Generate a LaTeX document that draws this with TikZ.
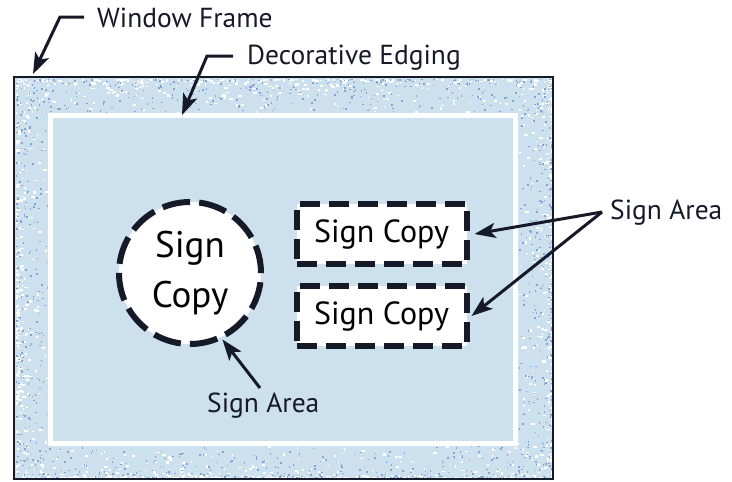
\documentclass[tikz,border=0pt]{standalone}
\usepackage{fontspec}
\setmainfont{PT Sans}
\usetikzlibrary{arrows.meta}
\definecolor{glass}{RGB}{204,224,238}
\definecolor{ink}{RGB}{22,25,40}
\definecolor{speckblue}{RGB}{118,146,204}
\begin{document}
\begin{tikzpicture}[x=1pt,y=-1pt,
		lbl/.style={anchor=base west,inner sep=0pt,text=ink,font=\fontsize{27.5}{32}\selectfont},
		pointer/.style={draw=ink,line width=3pt,-{Stealth[length=21pt,width=15pt,inset=5pt]}},
		copybox/.style={draw=ink,fill=white,line width=6pt,dash pattern=on 20pt off 9pt,
			minimum width=170pt,minimum height=60pt,inner sep=0pt,font=\fontsize{32}{36}\selectfont},
		copyround/.style={circle,draw=ink,fill=white,line width=6pt,dash pattern=on 28pt off 9.17pt,
			minimum size=142pt,inner sep=0pt,align=center,font=\fontsize{37}{50}\selectfont}]
	\useasboundingbox (0,0) rectangle (732,482);
	% window with its edging
	\fill[glass] (14,77) rectangle (553,479);
	\pgfmathsetseed{11}
	\foreach \ox/\oy/\dx/\dy/\lx/\ly/\n in {16/79/0/33/535/0/300, 16/477/0/-31/535/0/300,
			16/79/32/0/0/398/230, 551/79/-33/0/0/398/230}{
		\foreach \i in {1,...,\n}{
			\pgfmathsetmacro{\r}{rnd}
			\pgfmathsetmacro{\s}{rnd}
			\pgfmathsetmacro{\px}{\ox+\dx*\r*\r*\r+\lx*\s}
			\pgfmathsetmacro{\py}{\oy+\dy*\r*\r*\r+\ly*\s}
			\fill[white] (\px,\py) rectangle ++({1+3*rnd},{1+1.5*rnd});
		}
		\foreach \i in {1,...,\n}{
			\pgfmathsetmacro{\r}{rnd}
			\pgfmathsetmacro{\s}{rnd}
			\pgfmathsetmacro{\px}{\ox+\dx*\r*\r+\lx*\s}
			\pgfmathsetmacro{\py}{\oy+\dy*\r*\r+\ly*\s}
			\fill[speckblue!80!glass] (\px,\py) rectangle ++({1+rnd},{1+rnd});
		}
	}
	\draw[ink,line width=2.5pt] (14,77) rectangle (553,479);
	\draw[white,line width=5pt] (50.5,115.5) rectangle (515.5,443);
	% sign areas
	\node[copyround] (circ) at (190,273) {Sign\\Copy};
	\node[copybox] (copyA) at (381.5,234) {Sign Copy};
	\node[copybox] (copyB) at (381.5,316) {Sign Copy};
	% labels
	\node[lbl] (frameLbl) at (97,27) {Window Frame};
	\node[lbl] (edgeLbl) at (247,64) {Decorative Edging};
	\node[lbl] (areaR) at (610,219) {Sign Area};
	\node[lbl] (areaB) at (207,412) {Sign Area};
	\coordinate (frameTip) at (33,74);
	\coordinate (edgeTip) at (182,115);
	\draw[pointer] ([shift={(-13,-10)}]frameLbl.base west) -- ++(-24,0) -- (frameTip);
	\draw[pointer] ([shift={(-14,-8)}]edgeLbl.base west) -- ++(-26,0) -- (edgeTip);
	\draw[pointer] ([shift={(-8,-7)}]areaR.base west) -- ([xshift=5pt]copyA.east);
	\draw[pointer] ([shift={(-8,-7)}]areaR.base west) -- ([xshift=2pt]copyB.east);
	\draw[pointer] ([shift={(53,-24)}]areaB.base west) -- (circ.-64);
\end{tikzpicture}
\end{document}
